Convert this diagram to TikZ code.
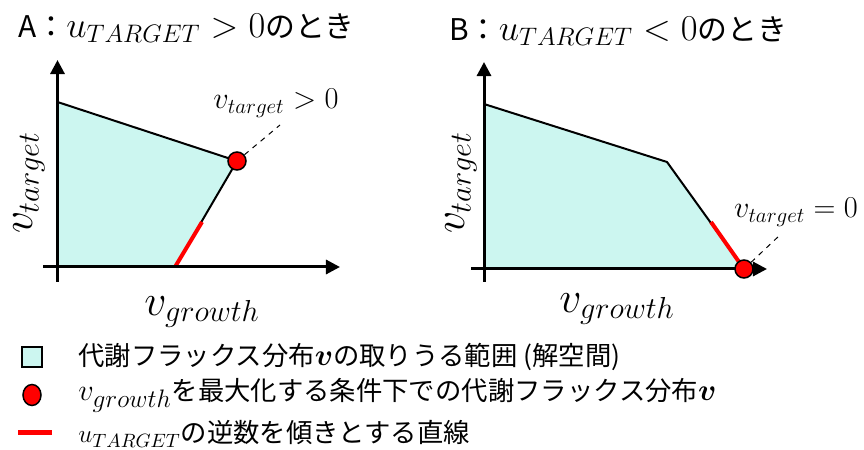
\documentclass[tikz,border=0pt]{standalone}
\usepackage{fontspec}
\usepackage{amsmath,bm}
\setmainfont{Noto Sans CJK JP}
\definecolor{solcyan}{RGB}{204,246,240}
\definecolor{optred}{RGB}{255,0,0}
\usetikzlibrary{arrows.meta,positioning,shapes.geometric}
\newcommand{\bigmath}[2]{{\fontsize{#1}{#1}\selectfont$#2$}}

\begin{document}
\begin{tikzpicture}[x=0.2mm,y=-0.2mm,
    every node/.style={inner sep=0pt},
    ttl/.style={anchor=west,font=\fontsize{17}{20}\selectfont},
    axlbl/.style={font=\fontsize{24}{28}\selectfont},
    note/.style={font=\fontsize{18}{21}\selectfont},
    leg/.style={anchor=west,font=\fontsize{15}{18}\selectfont},
    axis/.style={-{Triangle[length=8pt,width=8pt]},line width=0.6mm},
    bound/.style={line width=0.4mm,line join=round},
    slope/.style={optred,line width=0.8mm},
    optdot/.style={circle,draw,line width=0.3mm,fill=optred,minimum size=3.6mm},
    lead/.style={dashed,line width=0.2mm}]
  \useasboundingbox (0,0) rectangle (864,450);

  %% Panel A
  \node[ttl] (titA) at (18,28) {A：\bigmath{20.5}{u_{TARGET}>0}のとき};
  \coordinate (aO)   at (57.5,267);
  \coordinate (aTop) at (57.5,102);
  \coordinate (aV)   at (237,161);
  \coordinate (aX)   at (175,267);
  \coordinate (aR)   at (202,222);
  \coordinate (aYs)  at (57.5,282);
  \coordinate (aYe)  at (57.5,60);
  \coordinate (aXs)  at (43,267);
  \coordinate (aXe)  at (340,267);
  \coordinate (aLead) at (280,125);
  \fill[solcyan] (aO) -- (aTop) -- (aV) -- (aX) -- cycle;
  \draw[bound] (aTop) -- (aV) -- (aX);
  \draw[slope] (aX) -- (aR);
  \draw[axis] (aYs) -- (aYe);
  \draw[axis] (aXs) -- (aXe);
  \node[optdot] (aDot) at (aV) {};
  \draw[lead] (aDot) -- (aLead);
  \node[note] (aLbl) at (276,103) {$v_{target}>0$};
  \node[axlbl,rotate=90] (aYl) at (29,183) {$v_{target}$};
  \node[axlbl] (aXl) at (202,312) {$v_{growth}$};

  %% Panel B
  \node[ttl] (titB) at (449,31) {B：\bigmath{20.5}{u_{TARGET}<0}のとき};
  \coordinate (bO)   at (484,269);
  \coordinate (bTop) at (484,104);
  \coordinate (bV)   at (667,162);
  \coordinate (bX)   at (744,269);
  \coordinate (bR)   at (711,222);
  \coordinate (bYs)  at (484,282);
  \coordinate (bYe)  at (484,62);
  \coordinate (bXs)  at (471,269);
  \coordinate (bXe)  at (767,269);
  \coordinate (bLead) at (780,235);
  \fill[solcyan] (bO) -- (bTop) -- (bV) -- (bX) -- cycle;
  \draw[bound] (bTop) -- (bV) -- (bX);
  \draw[slope] (bR) -- (bX);
  \draw[axis] (bYs) -- (bYe);
  \draw[axis] (bXs) -- (bXe);
  \node[optdot] (bDot) at (bX) {};
  \draw[lead] (bDot) -- (bLead);
  \node[note] (bLbl) at (796,212) {$v_{target}=0$};
  \node[axlbl,rotate=90] (bYl) at (461,183) {$v_{target}$};
  \node[axlbl] (bXl) at (617,309) {$v_{growth}$};

  %% Legend
  \node[draw,line width=0.3mm,fill=solcyan,minimum size=4mm] (keyBox) at (32,357) {};
  \node[leg] (txtBox) at (78,357) {代謝フラックス分布\bigmath{18}{\bm{v}}の取りうる範囲 (解空間)};
  \node[ellipse,draw,line width=0.3mm,fill=optred,minimum width=3.6mm,minimum height=4.2mm] (keyDot) at (32,395) {};
  \node[leg] (txtDot) at (78,395) {\bigmath{19}{v_{growth}}を最大化する条件下での代謝フラックス分布\bigmath{18}{\bm{v}}};
  \coordinate (keyL) at (18,433);
  \coordinate (keyR) at (52,433);
  \draw[optred,line width=1mm] (keyL) -- (keyR);
  \node[leg] (txtLine) at (78,434) {\bigmath{15.5}{u_{TARGET}}の逆数を傾きとする直線};
\end{tikzpicture}
\end{document}
